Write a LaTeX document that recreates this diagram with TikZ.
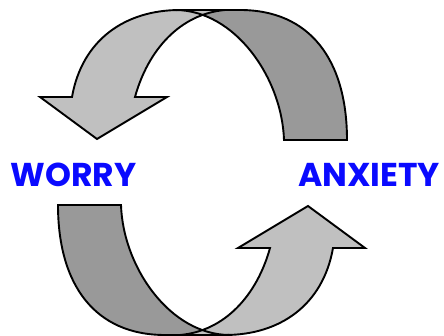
\documentclass[tikz,border=0pt]{standalone}
\usepackage{fontspec}
\setmainfont{Poppins}
\definecolor{lightband}{HTML}{C0C0C0}
\definecolor{darkband}{HTML}{999999}
\definecolor{wordblue}{HTML}{0A0AFF}
\tikzset{
  bandline/.style={draw=black, line width=1.9pt, line join=miter},
  word/.style={text=wordblue, font=\bfseries\fontsize{33}{33}\selectfont, inner sep=0pt, anchor=base}
}
\newcommand{\darkpath}{(284,140) -- (347,140) .. controls (347,60) and (310,10) .. (240,10)
     -- (175,10) .. controls (235,10) and (282,78) .. (284,140) -- cycle}
\newcommand{\lightpath}{(40,97) -- (72,97) .. controls (82,40) and (125,10) .. (180,10)
     -- (225,10) .. controls (180,14) and (148,50) .. (135,97) -- (167,97) -- (97,139) -- cycle}
\newcommand{\curvedarrow}{%
  \fill[darkband] \darkpath;
  \fill[lightband] \lightpath;
  \draw[bandline] \darkpath;
  \draw[bandline] \lightpath;
}
\begin{document}
\begin{tikzpicture}[x=1pt,y=-1pt]
  \useasboundingbox (0,0) rectangle (444,336);
  \curvedarrow
  \begin{scope}[rotate around={180:(202.5,172.5)}]
    \curvedarrow
  \end{scope}
  \node[word] (worry) at (73.5,187) {WORRY};
  \node[word] (anxiety) at (369,187) {ANXIETY};
\end{tikzpicture}
\end{document}
